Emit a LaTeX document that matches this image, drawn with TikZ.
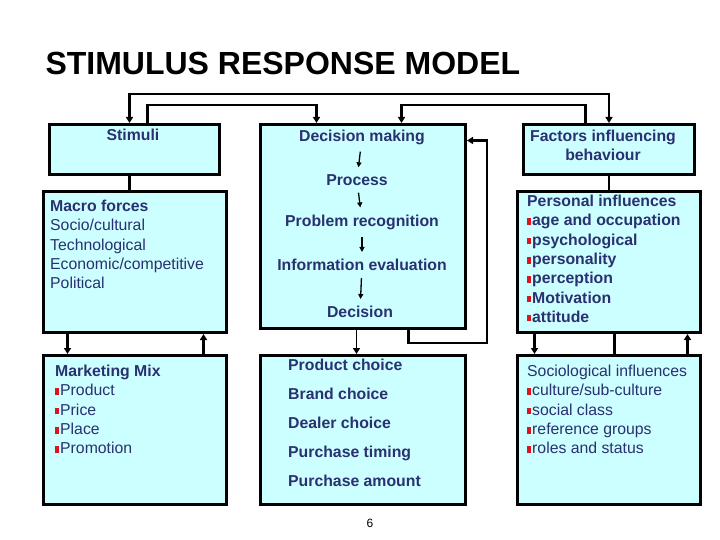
\documentclass[tikz,border=0pt]{standalone}
\usepackage{fontspec}
\setmainfont{Liberation Sans}
\usetikzlibrary{arrows.meta}
\definecolor{boxfill}{RGB}{204,255,255}
\definecolor{navy}{RGB}{42,48,112}
\definecolor{bulred}{RGB}{220,20,30}
\newcommand{\bul}{{\color{bulred}\rule[1pt]{4pt}{6.5pt}}\hspace{1pt}}
\tikzset{
  panel/.style={draw=black,line width=3pt,fill=boxfill,anchor=north west,inner sep=0pt},
  conn/.style={line width=2.5pt,-{Triangle[width=7pt,length=6pt]}},
  plain/.style={line width=2.5pt},
  stage/.style={line width=1.3pt,-{Triangle[width=5pt,length=5pt]},shorten <=4pt,shorten >=4pt},
  lbl/.style={text=navy,font=\fontsize{15.8}{19.3}\selectfont\bfseries,inner sep=3pt},
  lst/.style={text=navy,font=\fontsize{15.8}{19.3}\selectfont,align=left,anchor=north west,inner sep=0pt}
}
\begin{document}
\begin{tikzpicture}[x=1pt,y=-1pt]
\useasboundingbox (0,0) rectangle (720,540);
\node[anchor=west,font=\fontsize{32}{36}\selectfont\bfseries] (title) at (42,63) {STIMULUS RESPONSE MODEL};

% boxes
\node[panel,minimum width=170pt,minimum height=50pt] (stim) at (48,123) {};
\node[panel,minimum width=205pt,minimum height=204pt] (dec) at (259,123) {};
\node[panel,minimum width=171pt,minimum height=50pt] (fact) at (522,123) {};
\node[panel,minimum width=183pt,minimum height=141pt] (macro) at (42,190) {};
\node[panel,minimum width=183pt,minimum height=141pt] (pers) at (516,190) {};
\node[panel,minimum width=183pt,minimum height=149pt] (mix) at (42,354) {};
\node[panel,minimum width=205pt,minimum height=149pt] (choice) at (259,354) {};
\node[panel,minimum width=183pt,minimum height=149pt] (socio) at (516,354) {};

% texts
\node[lbl] (stimtxt) at (133,135) {Stimuli};
\node[lbl,align=center,font=\fontsize{15.8}{19}\selectfont\bfseries] (facttxt) at (603,145) {Factors influencing\\behaviour};
\node[lbl] (dm) at (362,137) {Decision making};
\node[lbl] (proc) at (357,180) {Process};
\node[lbl] (prob) at (362,222) {Problem recognition};
\node[lbl] (info) at (362,265) {Information evaluation};
\node[lbl] (deci) at (360,312) {Decision};
\draw[stage] (dm) -- (proc);
\draw[stage] (proc) -- (prob);
\draw[stage] (prob) -- (info);
\draw[stage] (info) -- (deci);

\node[lst] (macrotxt) at (50,200) {\textbf{Macro forces}\\Socio/cultural\\Technological\\Economic/competitive\\Political};
\node[lst] (perstxt) at (527,195) {\textbf{Personal influences}\\\bfseries\bul age and occupation\\\bfseries\bul psychological\\\bfseries\bul personality\\\bfseries\bul perception\\\bfseries\bul Motivation\\\bfseries\bul attitude};
\node[lst] (mixtxt) at (55,365) {\textbf{Marketing Mix}\\\bul Product\\\bul Price\\\bul Place\\\bul Promotion};
\node[lst,font=\fontsize{15.8}{29}\selectfont\bfseries] (choicetxt) at (288,359) {Product choice\\Brand choice\\Dealer choice\\Purchase timing\\Purchase amount};
\node[lst] (sociotxt) at (527,365) {Sociological influences\\\bul culture/sub-culture\\\bul social class\\\bul reference groups\\\bul roles and status};
\node[font=\fontsize{12}{14}\selectfont] (page) at (370,523) {6};

% connectors
\draw[conn,{Triangle[width=7pt,length=6pt]}-{Triangle[width=7pt,length=6pt]}] ([xshift=-5pt]stim.north) -- ++(0,-29) -| (fact.north);
\draw[conn] ([xshift=13pt]stim.north) -- ++(0,-18) -| ([xshift=-46.5pt]dec.north);
\draw[conn] ([xshift=-23.5pt]fact.north) -- ++(0,-18) -| ([xshift=38.5pt]dec.north);
\draw[plain] ([xshift=-5pt]stim.south) -- ([xshift=-5pt]stim.south |- macro.north);
\draw[plain] (fact.south) -- (fact.south |- pers.north);
\draw[conn] ([xshift=-67.5pt]macro.south) -- ([xshift=-67.5pt]macro.south |- mix.north);
\draw[conn] ([xshift=68.5pt]mix.north) -- ([xshift=68.5pt]mix.north |- macro.south);
\draw[conn] ([xshift=-74.5pt]pers.south) -- ([xshift=-74.5pt]pers.south |- socio.north);
\draw[plain] ([xshift=5.5pt]pers.south) -- ([xshift=5.5pt]pers.south |- socio.north);
\draw[conn] ([xshift=78.5pt]socio.north) -- ([xshift=78.5pt]socio.north |- pers.south);
\draw[conn,line width=1.5pt] ([xshift=-6.5pt]dec.south) -- ([xshift=-6.5pt]dec.south |- choice.north);
\coordinate (loop) at (487,343);
\draw[conn] ([xshift=45.5pt]dec.south) |- (loop) |- ([yshift=86pt]dec.east);
\end{tikzpicture}
\end{document}
